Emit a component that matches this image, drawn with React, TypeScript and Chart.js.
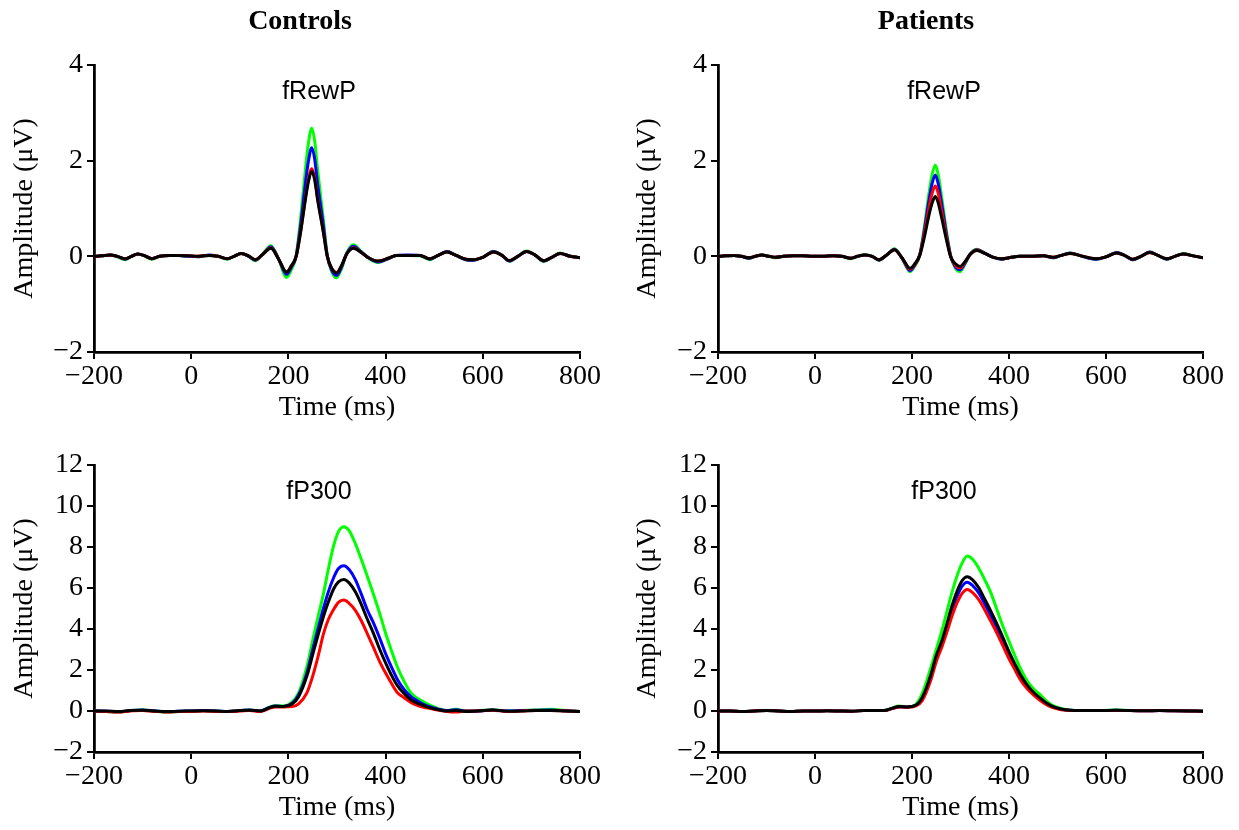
import React, { useEffect, useRef } from 'react';
import { Chart, registerables } from 'chart.js';
Chart.register(...registerables);

// ---------- data ----------
const X_TICKS = [-200, 0, 200, 400, 600, 800];
const REWP_Y_TICKS = [-2, 0, 2, 4];
const P300_Y_TICKS = [-2, 0, 2, 4, 6, 8, 10, 12];

const REWP_TIMES = [-200, -185, -167, -152, -136, -123, -110, -95, -81, -65, -45, -25, -5, 15, 37, 55, 74, 88, 103, 118, 132, 148, 164, 180, 196, 206, 216, 225, 235, 241, 248, 254, 260, 272, 280, 289, 299, 310, 320, 334, 350, 365, 385, 405, 422, 445, 471, 491, 508, 526, 545, 565, 580, 600, 622, 638, 655, 672, 690, 707, 725, 742, 759, 780, 800];

const CTRL_REWP_GREEN = [0.0, 0.01, 0.03, -0.01, -0.07, 0.0, 0.05, 0.0, -0.06, 0.0, 0.02, 0.02, 0.0, -0.01, 0.02, 0.0, -0.06, 0.0, 0.06, 0.0, -0.09, 0.06, 0.22, -0.06, -0.44, -0.28, 0.02, 0.78, 1.82, 2.35, 2.68, 2.42, 1.82, 0.76, 0.02, -0.32, -0.45, -0.24, 0.07, 0.24, 0.1, -0.04, -0.13, -0.05, 0.02, 0.02, 0.01, -0.07, 0.02, 0.1, 0.02, -0.07, -0.08, -0.02, 0.1, 0.03, -0.1, 0.0, 0.11, 0.03, -0.11, -0.02, 0.07, 0.0, -0.03];
const CTRL_REWP_BLUE = [0.0, 0.01, 0.03, 0.0, -0.06, 0.0, 0.05, 0.01, -0.05, 0.0, 0.02, 0.02, 0.0, -0.01, 0.03, 0.0, -0.05, 0.0, 0.06, 0.0, -0.08, 0.05, 0.2, -0.06, -0.38, -0.23, 0.01, 0.64, 1.52, 1.98, 2.27, 2.04, 1.52, 0.64, 0.01, -0.29, -0.4, -0.21, 0.06, 0.21, 0.09, -0.03, -0.12, -0.05, 0.02, 0.03, 0.02, -0.06, 0.02, 0.1, 0.02, -0.07, -0.08, -0.02, 0.1, 0.03, -0.1, 0.0, 0.1, 0.03, -0.1, -0.02, 0.06, 0.0, -0.03];
const CTRL_REWP_RED = [0.0, 0.01, 0.03, 0.0, -0.05, 0.0, 0.05, 0.01, -0.05, 0.0, 0.02, 0.02, 0.01, 0.0, 0.02, 0.0, -0.05, 0.0, 0.06, 0.01, -0.07, 0.05, 0.18, -0.06, -0.33, -0.2, 0.0, 0.51, 1.22, 1.6, 1.83, 1.65, 1.22, 0.51, 0.0, -0.25, -0.34, -0.18, 0.05, 0.18, 0.08, -0.03, -0.1, -0.04, 0.02, 0.02, 0.02, -0.05, 0.02, 0.09, 0.02, -0.06, -0.07, -0.02, 0.09, 0.03, -0.09, 0.0, 0.1, 0.03, -0.09, -0.02, 0.06, 0.0, -0.03];
const CTRL_REWP_BLACK = [0.0, 0.01, 0.03, 0.0, -0.05, 0.0, 0.05, 0.01, -0.05, 0.0, 0.02, 0.02, 0.01, 0.0, 0.02, 0.0, -0.05, 0.0, 0.06, 0.01, -0.07, 0.05, 0.17, -0.06, -0.33, -0.2, 0.0, 0.5, 1.19, 1.55, 1.78, 1.6, 1.19, 0.5, 0.0, -0.25, -0.35, -0.18, 0.05, 0.17, 0.08, -0.03, -0.1, -0.04, 0.02, 0.02, 0.02, -0.05, 0.02, 0.09, 0.02, -0.06, -0.07, -0.02, 0.09, 0.03, -0.09, 0.0, 0.1, 0.03, -0.09, -0.02, 0.06, 0.0, -0.03];

const PAT_REWP_GREEN = [0.0, 0.01, 0.02, 0.0, -0.04, 0.0, 0.03, 0.0, -0.03, 0.0, 0.01, 0.01, 0.0, 0.0, 0.01, 0.0, -0.05, 0.0, 0.04, 0.0, -0.08, 0.03, 0.16, -0.05, -0.32, -0.2, 0.03, 0.58, 1.32, 1.68, 1.91, 1.71, 1.32, 0.46, 0.0, -0.24, -0.32, -0.15, 0.05, 0.15, 0.07, -0.01, -0.06, -0.02, 0.0, 0.0, 0.01, -0.03, 0.02, 0.07, 0.02, -0.04, -0.06, -0.01, 0.08, 0.02, -0.07, 0.0, 0.09, 0.02, -0.06, 0.0, 0.06, 0.01, -0.03];
const PAT_REWP_BLUE = [0.0, 0.01, 0.02, 0.0, -0.04, 0.0, 0.03, 0.0, -0.02, 0.0, 0.01, 0.01, 0.0, 0.0, 0.01, 0.0, -0.04, 0.0, 0.03, 0.0, -0.08, 0.03, 0.15, -0.05, -0.3, -0.18, 0.03, 0.52, 1.17, 1.5, 1.7, 1.52, 1.17, 0.41, 0.0, -0.21, -0.28, -0.13, 0.05, 0.14, 0.07, -0.01, -0.06, -0.02, 0.0, 0.0, 0.01, -0.03, 0.02, 0.07, 0.02, -0.04, -0.06, -0.01, 0.08, 0.02, -0.07, 0.0, 0.09, 0.02, -0.06, 0.0, 0.05, 0.01, -0.03];
const PAT_REWP_RED = [0.0, 0.01, 0.02, 0.0, -0.03, 0.0, 0.03, 0.0, -0.02, 0.0, 0.01, 0.01, 0.0, 0.0, 0.01, 0.0, -0.04, 0.0, 0.03, 0.0, -0.07, 0.03, 0.14, -0.04, -0.27, -0.17, 0.03, 0.45, 1.01, 1.3, 1.47, 1.32, 1.01, 0.35, -0.01, -0.18, -0.24, -0.11, 0.04, 0.13, 0.06, -0.01, -0.05, -0.02, 0.0, 0.0, 0.01, -0.02, 0.02, 0.06, 0.02, -0.03, -0.05, -0.01, 0.07, 0.02, -0.06, 0.0, 0.08, 0.02, -0.05, 0.0, 0.05, 0.01, -0.03];
const PAT_REWP_BLACK = [0.0, 0.01, 0.02, 0.0, -0.03, 0.0, 0.03, 0.0, -0.02, 0.0, 0.01, 0.01, 0.0, 0.0, 0.01, 0.0, -0.04, 0.0, 0.03, 0.0, -0.07, 0.03, 0.14, -0.04, -0.25, -0.15, 0.02, 0.38, 0.86, 1.1, 1.25, 1.12, 0.86, 0.3, -0.02, -0.15, -0.21, -0.1, 0.04, 0.12, 0.06, -0.01, -0.05, -0.02, 0.0, 0.0, 0.01, -0.02, 0.02, 0.06, 0.02, -0.03, -0.05, -0.01, 0.07, 0.02, -0.06, 0.0, 0.08, 0.02, -0.05, 0.0, 0.05, 0.01, -0.03];

const P300_TIMES = [-200, -175, -150, -125, -100, -75, -50, -25, 0, 25, 50, 75, 100, 120, 142, 160, 173, 190, 208, 221, 238, 250, 262, 272, 282, 293, 303, 314, 325, 338, 350, 362, 375, 388, 400, 412, 424, 438, 452, 465, 478, 492, 507, 525, 545, 565, 590, 620, 650, 680, 710, 740, 770, 800];

const CTRL_P300_GREEN = [0, -0.02, -0.05, 0.02, 0.05, 0.0, -0.05, -0.02, 0.0, 0.02, 0.0, -0.03, 0.02, 0.05, 0.0, 0.18, 0.26, 0.25, 0.45, 0.88, 2.16, 3.45, 4.7, 5.7, 6.9, 8.05, 8.75, 8.99, 8.8, 8.15, 7.4, 6.6, 5.7, 4.75, 3.79, 2.95, 2.16, 1.45, 0.88, 0.62, 0.45, 0.28, 0.12, 0.02, 0.08, 0.0, 0.02, 0.06, 0.0, 0.03, 0.05, 0.08, 0.02, -0.02];
const CTRL_P300_BLUE = [0, -0.01, -0.04, 0.02, 0.05, 0.0, -0.04, -0.01, 0.0, 0.02, 0.0, -0.02, 0.02, 0.05, 0.0, 0.16, 0.24, 0.22, 0.38, 0.78, 1.85, 3.0, 4.1, 5.0, 5.8, 6.5, 6.95, 7.09, 6.9, 6.4, 5.7, 4.95, 4.3, 3.55, 2.8, 2.15, 1.55, 1.05, 0.7, 0.5, 0.33, 0.2, 0.1, 0.02, 0.06, 0.0, 0.0, 0.05, 0.0, 0.02, 0.04, 0.05, 0.01, -0.02];
const CTRL_P300_RED = [0, -0.03, -0.05, 0.0, 0.03, -0.02, -0.05, -0.03, -0.02, 0.0, -0.02, -0.03, 0.0, 0.03, -0.02, 0.12, 0.2, 0.2, 0.22, 0.35, 0.88, 1.7, 2.75, 3.75, 4.45, 4.95, 5.3, 5.41, 5.25, 4.9, 4.4, 3.79, 3.1, 2.4, 1.85, 1.35, 0.9, 0.65, 0.42, 0.28, 0.18, 0.12, 0.05, -0.02, -0.05, 0.0, 0.0, 0.04, -0.02, 0.0, 0.02, 0.03, 0.0, -0.02];
const CTRL_P300_BLACK = [0, 0.0, -0.03, 0.02, 0.04, 0.0, -0.03, -0.01, 0.0, 0.01, 0.0, -0.02, 0.02, 0.04, 0.0, 0.15, 0.23, 0.22, 0.35, 0.7, 1.7, 2.75, 3.79, 4.6, 5.3, 5.95, 6.3, 6.42, 6.25, 5.8, 5.2, 4.5, 3.79, 3.0, 2.35, 1.75, 1.25, 0.85, 0.55, 0.38, 0.27, 0.15, 0.07, 0.0, 0.02, -0.02, 0.0, 0.05, -0.01, 0.0, 0.03, 0.02, 0.0, -0.02];

const PAT_P300_GREEN = [0, 0.0, -0.02, 0.0, 0.02, 0.0, -0.02, 0.0, 0.0, 0.01, 0.0, -0.01, 0.02, 0.03, 0.02, 0.15, 0.24, 0.2, 0.33, 0.85, 2.05, 3.0, 3.95, 4.85, 5.75, 6.6, 7.2, 7.56, 7.4, 6.95, 6.4, 5.8, 4.95, 4.1, 3.4, 2.7, 2.05, 1.45, 1.05, 0.78, 0.47, 0.25, 0.12, 0.05, 0.02, 0.03, 0.02, 0.05, 0.03, 0.02, 0.03, 0.02, 0.01, 0.0];
const PAT_P300_BLUE = [0, 0.0, -0.02, 0.0, 0.02, 0.0, -0.02, 0.0, 0.0, 0.01, 0.0, -0.01, 0.02, 0.03, 0.02, 0.13, 0.2, 0.2, 0.28, 0.6, 1.6, 2.6, 3.35, 4.1, 4.9, 5.6, 6.08, 6.28, 6.12, 5.75, 5.22, 4.68, 4.05, 3.4, 2.75, 2.2, 1.65, 1.18, 0.83, 0.58, 0.36, 0.19, 0.09, 0.04, 0.02, 0.02, 0.02, 0.04, 0.02, 0.01, 0.02, 0.01, 0.0, -0.01];
const PAT_P300_RED = [0, 0.0, -0.02, 0.0, 0.02, 0.0, -0.02, 0.0, 0.0, 0.01, 0.0, -0.01, 0.02, 0.03, 0.02, 0.12, 0.2, 0.18, 0.25, 0.5, 1.45, 2.4, 3.15, 3.85, 4.6, 5.28, 5.73, 5.93, 5.78, 5.42, 4.93, 4.4, 3.8, 3.15, 2.55, 2.02, 1.5, 1.07, 0.75, 0.5, 0.3, 0.15, 0.06, 0.03, 0.02, 0.02, 0.02, 0.03, 0.02, 0.01, 0.02, 0.01, 0.0, -0.01];
const PAT_P300_BLACK = [0, 0.0, -0.02, 0.0, 0.02, 0.0, -0.02, 0.0, 0.0, 0.01, 0.0, -0.01, 0.02, 0.03, 0.02, 0.14, 0.22, 0.2, 0.28, 0.65, 1.7, 2.7, 3.45, 4.25, 5.1, 5.85, 6.35, 6.55, 6.4, 6.0, 5.45, 4.9, 4.25, 3.55, 2.9, 2.3, 1.75, 1.25, 0.88, 0.62, 0.38, 0.2, 0.1, 0.04, 0.02, 0.02, 0.02, 0.04, 0.02, 0.01, 0.02, 0.01, 0.0, -0.01];

const COLORS = { green: '#00ff00', blue: '#0000ff', red: '#ff0000', black: '#000000' };

// ---------- component ----------
type Series = { values: number[]; color: string };
type PanelProps = {
  left: number; top: number; width: number; height: number;
  padTop: number; padRight: number; yWidth: number; xHeight: number; yTitlePad: number;
  yTicks: number[]; times: number[]; series: Series[];
};

const SERIF = "'Liberation Serif', 'Times New Roman', serif";
const SANS = "'Liberation Sans', Arial, sans-serif";
const fmt = (v: number | string) => String(v).replace('-', '\u2212');

function Panel(p: PanelProps) {
  const ref = useRef<HTMLCanvasElement>(null);
  useEffect(() => {
    const yMin = p.yTicks[0];
    const yMax = p.yTicks[p.yTicks.length - 1];
    const chart = new Chart(ref.current as HTMLCanvasElement, {
      type: 'line',
      data: {
        // first dataset is drawn on top in Chart.js -> list top-most first
        datasets: p.series.map((s) => ({
          data: p.times.map((t, i) => ({ x: t, y: s.values[i] })),
          borderColor: s.color,
          backgroundColor: s.color,
          borderWidth: 3,
          pointRadius: 0,
          fill: false,
          cubicInterpolationMode: 'monotone' as const,
        })),
      },
      options: {
        animation: false,
        responsive: false,
        devicePixelRatio: 1,
        layout: { padding: { top: p.padTop, right: p.padRight, left: 0, bottom: 0 } },
        plugins: { legend: { display: false }, tooltip: { enabled: false } },
        scales: {
          x: {
            type: 'linear',
            min: X_TICKS[0],
            max: X_TICKS[X_TICKS.length - 1],
            afterBuildTicks: (s: any) => { s.ticks = X_TICKS.map((v) => ({ value: v })); },
            afterFit: (s: any) => { s.height = p.xHeight; },
            ticks: {
              autoSkip: false, maxRotation: 0, padding: 1, color: '#000',
              font: { family: SERIF, size: 28 },
              callback: (v: any) => fmt(v),
            },
            grid: { drawOnChartArea: false, drawTicks: true, tickLength: 7, color: '#000', lineWidth: 2 },
            border: { display: true, color: '#000', width: 2.8 },
            title: { display: true, text: 'Time (ms)', color: '#000', font: { family: SERIF, size: 28 }, padding: { top: 0, bottom: 16 } },
          },
          y: {
            type: 'linear',
            min: yMin,
            max: yMax,
            afterBuildTicks: (s: any) => { s.ticks = p.yTicks.map((v) => ({ value: v })); },
            afterFit: (s: any) => { s.width = p.yWidth; },
            ticks: {
              autoSkip: false, padding: 4, color: '#000',
              font: { family: SERIF, size: 28 },
              callback: (v: any) => fmt(v),
            },
            grid: { drawOnChartArea: false, drawTicks: true, tickLength: 7, color: '#000', lineWidth: 2 },
            border: { display: true, color: '#000', width: 2.8 },
            title: { display: true, text: 'Amplitude (\u03bcV)', color: '#000', font: { family: SERIF, size: 28 }, padding: { top: p.yTitlePad, bottom: 0 } },
          },
        },
      } as any,
    });
    return () => chart.destroy();
  }, []);
  return (
    <canvas
      ref={ref}
      width={p.width}
      height={p.height}
      style={{ position: 'absolute', left: p.left, top: p.top, width: p.width, height: p.height }}
    />
  );
}

const textStyle = (x: number, y: number, font: string, size: number, bold = false): React.CSSProperties => ({
  position: 'absolute', left: x - 150, top: y - size * 0.6, width: 300, textAlign: 'center',
  fontFamily: font, fontSize: size, fontWeight: bold ? 'bold' : 'normal', lineHeight: `${size * 1.2}px`, color: '#000',
});

export default function App() {
  const ctrlRewp: Series[] = [
    { values: CTRL_REWP_BLACK, color: COLORS.black },
    { values: CTRL_REWP_RED, color: COLORS.red },
    { values: CTRL_REWP_BLUE, color: COLORS.blue },
    { values: CTRL_REWP_GREEN, color: COLORS.green },
  ];
  const patRewp: Series[] = [
    { values: PAT_REWP_BLACK, color: COLORS.black },
    { values: PAT_REWP_RED, color: COLORS.red },
    { values: PAT_REWP_BLUE, color: COLORS.blue },
    { values: PAT_REWP_GREEN, color: COLORS.green },
  ];
  const ctrlP300: Series[] = [
    { values: CTRL_P300_BLACK, color: COLORS.black },
    { values: CTRL_P300_RED, color: COLORS.red },
    { values: CTRL_P300_BLUE, color: COLORS.blue },
    { values: CTRL_P300_GREEN, color: COLORS.green },
  ];
  const patP300: Series[] = [
    { values: PAT_P300_BLACK, color: COLORS.black },
    { values: PAT_P300_RED, color: COLORS.red },
    { values: PAT_P300_BLUE, color: COLORS.blue },
    { values: PAT_P300_GREEN, color: COLORS.green },
  ];
  return (
    <div style={{ position: 'absolute', left: 0, top: 0, width: 1239, height: 830, overflow: 'hidden', background: '#fff' }}>
      <Panel left={0} top={30} width={620} height={410} padTop={35} padRight={40} yWidth={94} xHeight={88} yTitlePad={8}
        yTicks={REWP_Y_TICKS} times={REWP_TIMES} series={ctrlRewp} />
      <Panel left={624} top={30} width={615} height={410} padTop={35} padRight={36} yWidth={94} xHeight={88} yTitlePad={7}
        yTicks={REWP_Y_TICKS} times={REWP_TIMES} series={patRewp} />
      <Panel left={0} top={430} width={620} height={410} padTop={35} padRight={40} yWidth={94} xHeight={88} yTitlePad={8}
        yTicks={P300_Y_TICKS} times={P300_TIMES} series={ctrlP300} />
      <Panel left={624} top={430} width={615} height={410} padTop={35} padRight={36} yWidth={94} xHeight={88} yTitlePad={7}
        yTicks={P300_Y_TICKS} times={P300_TIMES} series={patP300} />
      <div style={textStyle(300, 20, SERIF, 28, true)}>Controls</div>
      <div style={textStyle(926, 20, SERIF, 28, true)}>Patients</div>
      <div style={textStyle(319, 90, SANS, 25)}>fRewP</div>
      <div style={textStyle(944, 90, SANS, 25)}>fRewP</div>
      <div style={textStyle(319, 490, SANS, 25)}>fP300</div>
      <div style={textStyle(944, 490, SANS, 25)}>fP300</div>
    </div>
  );
}
